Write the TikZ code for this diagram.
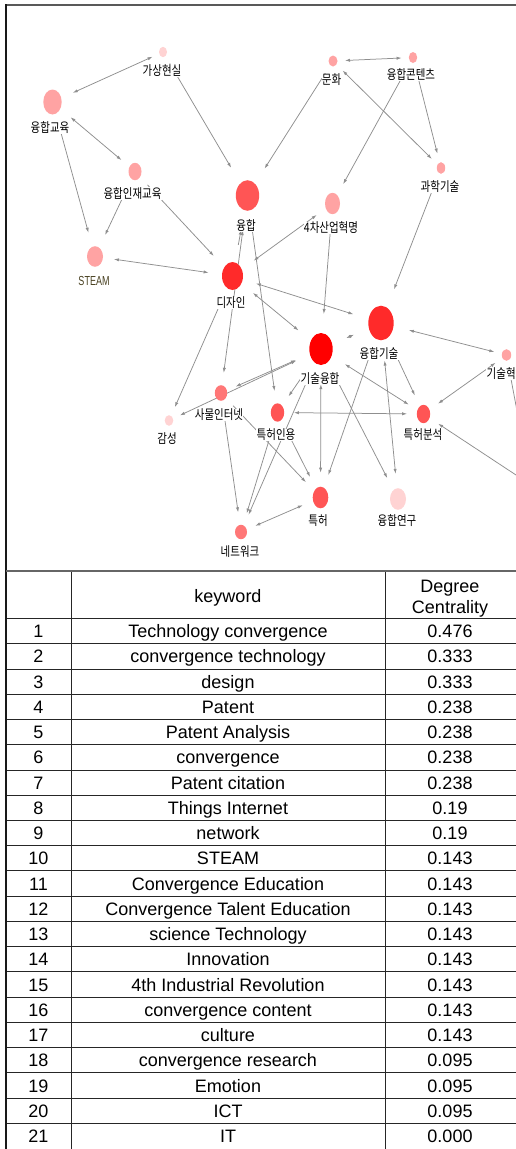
\documentclass[tikz,border=0pt]{standalone}
\usepackage{fontspec}
\usepackage{graphicx}
\usetikzlibrary{shapes.geometric,arrows.meta,calc}
\newfontfamily\kfont{Noto Sans CJK KR}
\newfontfamily\tfont{Liberation Sans}
\definecolor{cTop}{HTML}{FF0000}
\definecolor{cA}{HTML}{FF2A2A}
\definecolor{cB}{HTML}{FF5555}
\definecolor{cC}{HTML}{FF7777}
\definecolor{cD}{HTML}{FFA3A3}
\definecolor{cE}{HTML}{FFD3D3}
\definecolor{edgegray}{HTML}{8F8F8F}
\definecolor{steamcol}{HTML}{4A4222}
\newcommand{\klab}[1]{\scalebox{1}[1.25]{#1}}
\newcommand{\halonode}[4]{%
  \pgfmathsetmacro\haw{2*(2*#4+3)}%
  \pgfmathsetmacro\hah{1.333*\haw}%
  \node[halo, minimum width=\haw pt, minimum height=\hah pt] (h#1) at (#2,#3) {};}
\newcommand{\circnode}[6]{%
  \node[cnode, fill=#6, minimum width={2*#4pt}, minimum height={2*#5pt}] (#1) at (#2,#3) {};}
\begin{document}
\begin{tikzpicture}[x=1pt,y=-1pt,
  cnode/.style={ellipse, draw=none, inner sep=0pt, outer sep=0pt},
  halo/.style={ellipse, draw=none, inner sep=0pt, outer sep=0pt},
  klabel/.style={font=\kfont\fontsize{10.5}{12}\selectfont, fill=white, inner sep=0.3pt},
  edge/.style={draw=edgegray, line width=0.75pt},
  ar/.style={edge, -{Latex[length=5pt,width=3.2pt]}},
  ba/.style={edge, {Latex[length=5pt,width=3.2pt]}-{Latex[length=5pt,width=3.2pt]}},
  tline/.style={line width=0.9pt, draw=black!85},
  ttext/.style={font=\tfont\fontsize{18}{20}\selectfont, anchor=base, inner sep=0pt},
]
\useasboundingbox (0,0) rectangle (516,1149);
\fill[white] (0,0) rectangle (516,1149);

% invisible halos (arrow ends)
\halonode{VR}{163}{52}{4}
\halonode{CE}{52.5}{102}{9.2}
\halonode{CTE}{135}{171.5}{6.5}
\halonode{ST}{95}{256.5}{8}
\halonode{CV}{247.5}{195.5}{11.7}
\halonode{DS}{232.5}{276}{10.5}
\halonode{IR}{332.5}{203.5}{7.5}
\halonode{CU}{333}{61}{4.5}
\halonode{CC}{413}{57.5}{4.2}
\halonode{SC}{441}{168}{4.2}
\halonode{CT}{381}{323}{12.7}
\halonode{TC}{321}{349}{11.7}
\halonode{PC}{277.5}{412.5}{6.7}
\halonode{PA}{423.5}{414}{6.7}
\halonode{PT}{320.5}{497.5}{7.8}
\halonode{CR}{398}{499}{8}
\halonode{IN}{506.5}{355}{4.7}
\halonode{IoT}{221}{393}{6.2}
\halonode{EM}{169}{420.5}{4.3}
\halonode{NW}{241}{532}{6}
\coordinate (X1) at (530,480);
\coordinate (X2) at (560,504);

% edges
\draw[ba] (hCE) -- (hVR);
\draw[ar] (hVR) -- (hCV);
\draw[ba] (hCE) -- (hCTE);
\draw[ar] (hCE) -- (hST);
\draw[ar] (hCTE) -- (hST);
\draw[ar] (hCTE) -- (hDS);
\draw[ba] (hST) -- (hDS);
\draw[ar] (hDS) -- (hCV);
\draw[ba] (hIoT) -- (hCV);
\draw[ar] (hCV) -- (hPC);
\draw[ba] (hDS) -- (hIR);
\draw[ba] (hDS) -- (hCT);
\draw[ba] (hDS) -- (hTC);
\draw[ar] (hIR) -- (hTC);
\draw[ar] (hCU) -- (hCV);
\draw[ba] (hCU) -- (hCC);
\draw[ba] (hCU) -- (hSC);
\draw[ar] (hCC) -- (hIR);
\draw[ar] (hCC) -- (hSC);
\draw[ar] (hSC) -- (hCT);
\draw[ba] (hCT) -- (hTC);
\draw[ba] (hCT) -- (hIN);
\draw[ar] (hCT) -- (hPA);
\draw[ar] (hCT) -- (hPT);
\draw[ba] (hCT) -- (hCR);
\draw[ba] (hTC) -- (hPA);
\draw[ar] (hTC) -- (hPC);
\draw[ba] (hTC) -- (hPT);
\draw[ar] (hTC) -- (hCR);
\draw[ar] (hTC) -- (hNW);
\draw[ba] (hPC) -- (hPA);
\draw[ar] (hPC) -- (hPT);
\draw[ar] (hPC) -- (hNW);
\draw[ar] (hIoT) -- (hPT);
\draw[ar] (hIoT) -- (hNW);
\draw[ba] (hTC) -- (hEM);
\draw[ar] (hDS) -- (hEM);
\draw[ba] (hIoT) -- (hTC);
\draw[ba] (hPT) -- (hNW);
\draw[ba] (hIN) -- (hPA);
\draw[edge] (hIN) -- (X1);
\draw[ar] (X2) -- (hPA);

% circles
\circnode{VR}{163}{52}{4}{5.2}{cE}
\circnode{CE}{52.5}{102}{9.2}{12.5}{cD}
\circnode{CTE}{135}{171.5}{6.5}{8.7}{cD}
\circnode{ST}{95}{256.5}{8}{10.3}{cD}
\circnode{CV}{247.5}{195.5}{11.7}{15.3}{cB}
\circnode{DS}{232.5}{276}{10.5}{14}{cA}
\circnode{IR}{332.5}{203.5}{7.5}{10.7}{cD}
\circnode{CU}{333}{61}{4.5}{5.5}{cD}
\circnode{CC}{413}{57.5}{4.2}{5.5}{cD}
\circnode{SC}{441}{168}{4.2}{5.8}{cD}
\circnode{CT}{381}{323}{12.7}{17.3}{cA}
\circnode{TC}{321}{349}{11.7}{16}{cTop}
\circnode{PC}{277.5}{412.5}{6.7}{9.2}{cB}
\circnode{PA}{423.5}{414}{6.7}{9.2}{cB}
\circnode{PT}{320.5}{497.5}{7.8}{10.8}{cB}
\circnode{CR}{398}{499}{8}{10.8}{cE}
\circnode{IN}{506.5}{355}{4.7}{5.8}{cD}
\circnode{IoT}{221}{393}{6.2}{7.8}{cC}
\circnode{EM}{169}{420.5}{4.3}{5.3}{cE}
\circnode{NW}{241}{532}{6}{7.2}{cC}

% labels
\node[klabel] (lVR) at (162,70.5) {\klab{가상현실}};
\node[klabel] (lCE) at (50,128) {\klab{융합교육}};
\node[klabel] (lCTE) at (132.5,193.5) {\klab{융합인재교육}};
\node[font=\tfont\fontsize{9}{10}\selectfont, text=steamcol, fill=white, inner sep=0.3pt] (lST) at (94,281) {\scalebox{1}[1.45]{STEAM}};
\node[klabel] (lCV) at (246,225.5) {\klab{융합}};
\node[klabel] (lDS) at (231,303) {\klab{디자인}};
\node[klabel] (lIR) at (331,228) {\klab{4차산업혁명}};
\node[klabel] (lCU) at (331.5,80) {\klab{문화}};
\node[klabel] (lCC) at (411,75) {\klab{융합콘텐츠}};
\node[klabel] (lSC) at (440,187) {\klab{과학기술}};
\node[klabel] (lCT) at (379,353.5) {\klab{융합기술}};
\node[klabel] (lTC) at (320,378.5) {\klab{기술융합}};
\node[klabel] (lPC) at (276,435) {\klab{특허인용}};
\node[klabel] (lPA) at (423,435) {\klab{특허분석}};
\node[klabel] (lPT) at (318,520.5) {\klab{특허}};
\node[klabel] (lCR) at (397,520.5) {\klab{융합연구}};
\node[klabel] (lIN) at (506,374) {\klab{기술혁신}};
\node[klabel] (lIoT) at (219,415) {\klab{사물인터넷}};
\node[klabel] (lEM) at (167,438.5) {\klab{감성}};
\node[klabel] (lNW) at (240,551.5) {\klab{네트워크}};

% table
\draw[tline] (71,571) -- (71,1149);
\draw[tline] (385,571) -- (385,1149);
\foreach \k in {0,...,20} {
  \draw[tline] (6,{618.5+\k*25.24}) -- (516,{618.5+\k*25.24});
}
\node[ttext] (hkw) at (228,602.5) {keyword};
\node[ttext] (hdg) at (450,592) {Degree};
\node[ttext] (hcn) at (450,613) {Centrality};
\foreach \i/\kw/\val in {
  1/Technology convergence/0.476,
  2/convergence technology/0.333,
  3/design/0.333,
  4/Patent/0.238,
  5/Patent Analysis/0.238,
  6/convergence/0.238,
  7/Patent citation/0.238,
  8/Things Internet/0.19,
  9/network/0.19,
  10/STEAM/0.143,
  11/Convergence Education/0.143,
  12/Convergence Talent Education/0.143,
  13/science Technology/0.143,
  14/Innovation/0.143,
  15/4th Industrial Revolution/0.143,
  16/convergence content/0.143,
  17/culture/0.143,
  18/convergence research/0.095,
  19/Emotion/0.095,
  20/ICT/0.095,
  21/IT/0.000} {
  \pgfmathsetmacro\yb{618.5+(\i-0.5)*25.24+6.6}
  \node[ttext] (n\i) at (38.5,\yb) {\i};
  \node[ttext] (k\i) at (228,\yb) {\kw};
  \node[ttext] (v\i) at (450,\yb) {\val};
}

% frame
\draw[line width=1.6pt, draw=black!65] (516,5) -- (6,5);
\draw[line width=1.5pt, draw=black!90] (6,4.2) -- (6,1149);
\draw[line width=1.6pt, draw=black!60] (6,571) -- (516,571);
\end{tikzpicture}
\end{document}
